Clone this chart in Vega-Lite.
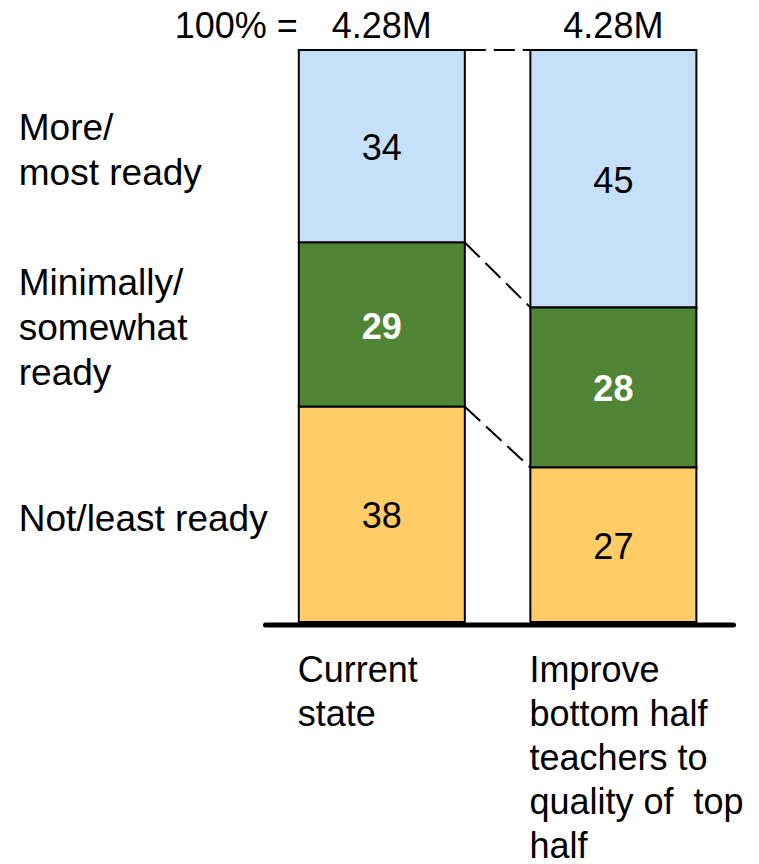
{
  "$schema": "https://vega.github.io/schema/vega-lite/v6.json",
  "width": 468,
  "height": 572,
  "autosize": {"type": "none"},
  "padding": {"left": 265, "top": 50, "right": 26, "bottom": 242},
  "background": "#ffffff",
  "config": {
    "view": {"stroke": null},
    "font": "Liberation Sans",
    "text": {"font": "Liberation Sans", "fontSize": 36, "color": "#000000"},
    "axisX": {
      "domain": true,
      "domainColor": "#000000",
      "domainWidth": 5,
      "domainCap": "round",
      "ticks": false,
      "grid": false,
      "labelAlign": "left",
      "labelBaseline": "top",
      "labelAngle": 0,
      "labelOffset": -84,
      "labelFont": "Liberation Sans",
      "labelFontSize": 36,
      "labelColor": "#000000",
      "labelLineHeight": 44,
      "labelPadding": 29,
      "labelLimit": 0,
      "labelOverlap": false,
      "labelExpr": "split(datum.value, '\\n')",
      "offset": 2.5,
      "zindex": 1
    }
  },
  "data": {
    "values": [
      {"scenario": "Current\nstate", "readiness": "More/most ready", "label": "More/\nmost ready", "level": 3, "share": 34, "total": "4.28M"},
      {"scenario": "Current\nstate", "readiness": "Minimally/somewhat ready", "label": "Minimally/\nsomewhat\nready", "level": 2, "share": 29, "total": "4.28M"},
      {"scenario": "Current\nstate", "readiness": "Not/least ready", "label": "Not/least ready", "level": 1, "share": 38, "total": "4.28M"},
      {"scenario": "Improve\nbottom half\nteachers to\nquality of \u00a0top\nhalf", "readiness": "More/most ready", "label": "More/\nmost ready", "level": 3, "share": 45, "total": "4.28M"},
      {"scenario": "Improve\nbottom half\nteachers to\nquality of \u00a0top\nhalf", "readiness": "Minimally/somewhat ready", "label": "Minimally/\nsomewhat\nready", "level": 2, "share": 28, "total": "4.28M"},
      {"scenario": "Improve\nbottom half\nteachers to\nquality of \u00a0top\nhalf", "readiness": "Not/least ready", "label": "Not/least ready", "level": 1, "share": 27, "total": "4.28M"}
    ]
  },
  "encoding": {
    "x": {
      "field": "scenario",
      "type": "nominal",
      "title": null,
      "scale": {"paddingInner": 0.283, "paddingOuter": 0.152, "align": 0.48}
    }
  },
  "layer": [
    {
      "mark": {"type": "bar", "stroke": "#000000", "strokeWidth": 2},
      "encoding": {
        "y": {"field": "share", "type": "quantitative", "stack": "normalize", "axis": null},
        "color": {
          "field": "readiness",
          "type": "nominal",
          "scale": {
            "domain": ["More/most ready", "Minimally/somewhat ready", "Not/least ready"],
            "range": ["#c7e0f9", "#518536", "#ffcc66"]
          },
          "legend": null
        },
        "order": {"field": "level", "sort": "ascending"}
      }
    },
    {
      "transform": [
        {"stack": "share", "groupby": ["scenario"], "sort": [{"field": "level", "order": "ascending"}], "offset": "normalize", "as": ["y_lo", "y_hi"]},
        {"window": [{"op": "lead", "field": "y_hi", "as": "next_hi"}, {"op": "lead", "field": "scenario", "as": "next_scenario"}], "groupby": ["readiness"], "sort": [{"field": "scenario", "order": "ascending"}]},
        {"filter": "datum.next_scenario != null"}
      ],
      "mark": {"type": "rule", "strokeDash": [21, 8], "strokeWidth": 2, "color": "#000000"},
      "encoding": {
        "x": {"field": "scenario", "type": "nominal", "title": null, "bandPosition": 1},
        "x2": {"field": "next_scenario", "bandPosition": 0},
        "y": {"field": "y_hi", "type": "quantitative", "axis": null},
        "y2": {"field": "next_hi"}
      }
    },
    {
      "mark": {"type": "text", "baseline": "middle", "align": "center", "dy": 3, "fontWeight": {"expr": "datum.level == 2 ? 'bold' : 'normal'"}},
      "encoding": {
        "y": {"field": "share", "type": "quantitative", "stack": "normalize", "bandPosition": 0.5, "axis": null},
        "detail": {"field": "readiness"},
        "order": {"field": "level", "sort": "ascending"},
        "text": {"field": "share", "type": "quantitative"},
        "color": {"condition": {"test": "datum.level == 2", "value": "#ffffff"}, "value": "#000000"}
      }
    },
    {
      "transform": [{"filter": "indexof(datum.scenario, 'Current') === 0"}],
      "mark": {"type": "text", "align": "left", "baseline": "middle", "lineBreak": "\n", "lineHeight": 45, "fontSize": 37, "dx": -280, "dy": {"expr": "6 - (length(split(datum.label, '\\n')) - 1) * 23.5"}},
      "encoding": {
        "x": {"field": "scenario", "type": "nominal", "title": null, "bandPosition": 0},
        "y": {"field": "share", "type": "quantitative", "stack": "normalize", "bandPosition": 0.5, "axis": null},
        "detail": {"field": "readiness"},
        "order": {"field": "level", "sort": "ascending"},
        "text": {"field": "label"}
      }
    },
    {
      "transform": [{"filter": "datum.level == 3"}],
      "mark": {"type": "text", "align": "center", "baseline": "alphabetic", "dy": -12},
      "encoding": {
        "y": {"datum": 1, "type": "quantitative", "axis": null},
        "text": {"field": "total"}
      }
    },
    {
      "transform": [{"filter": "datum.level == 3 && indexof(datum.scenario, 'Current') === 0"}],
      "mark": {"type": "text", "text": "100% =", "align": "right", "baseline": "alphabetic", "dy": -12, "dx": -1},
      "encoding": {
        "x": {"field": "scenario", "type": "nominal", "title": null, "bandPosition": 0},
        "y": {"datum": 1, "type": "quantitative", "axis": null}
      }
    }
  ]
}
